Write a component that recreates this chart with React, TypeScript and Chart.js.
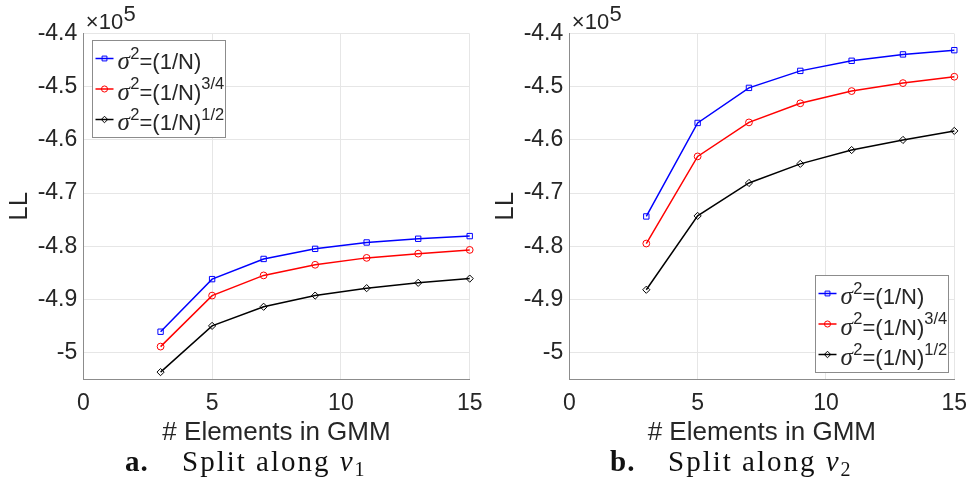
import React, { useEffect, useRef } from 'react';
import { Chart, registerables } from 'chart.js';

Chart.register(...registerables);

// ---------- data ----------
const elements = [3, 5, 7, 9, 11, 13, 15];
const xTicks = [0, 5, 10, 15];
const yTicks = [-5, -4.9, -4.8, -4.7, -4.6, -4.5, -4.4];
const yMin = -5.05;
const yMax = -4.4;
const xMin = 0;
const xMax = 15;

const seriesLabels = ['σ2=(1/N)', 'σ2=(1/N)3/4', 'σ2=(1/N)1/2'];
const legendExponents = ['', '3/4', '1/2'];
const seriesColors = ['#0000ff', '#ff0000', '#000000'];
const seriesMarkers = ['rect', 'circle', 'rectRot'];
const markerRadii = [3.8, 3.4, 3.6];

// LL values (x 10^5), split along nu_1
const nu1Inv = [-4.961, -4.862, -4.824, -4.805, -4.793, -4.786, -4.781];
const nu1Inv34 = [-4.989, -4.893, -4.855, -4.835, -4.822, -4.814, -4.807];
const nu1Inv12 = [-5.037, -4.95, -4.914, -4.893, -4.879, -4.869, -4.861];

// LL values (x 10^5), split along nu_2
const nu2Inv = [-4.744, -4.568, -4.502, -4.47, -4.451, -4.439, -4.431];
const nu2Inv34 = [-4.795, -4.631, -4.567, -4.531, -4.508, -4.493, -4.481];
const nu2Inv12 = [-4.882, -4.743, -4.681, -4.645, -4.619, -4.6, -4.583];

const xTitle = '# Elements in GMM';
const yTitle = 'LL';
const exponentBase = '×10';
const exponentPower = '5';

const SANS = '"Liberation Sans", Arial, Helvetica, sans-serif';
const SERIF = '"Liberation Serif", "Times New Roman", serif';
const TEXT = '#262626';
const AXIS = '#8c8c8c';
const GRID = '#e6e6e6';

function drawMarker(ctx: CanvasRenderingContext2D, style: string, x: number, y: number, r: number) {
  ctx.beginPath();
  if (style === 'rect') {
    const s = r * Math.SQRT1_2;
    ctx.rect(x - s, y - s, 2 * s, 2 * s);
  } else if (style === 'circle') {
    ctx.arc(x, y, r, 0, Math.PI * 2);
  } else {
    ctx.moveTo(x - r, y);
    ctx.lineTo(x, y - r);
    ctx.lineTo(x + r, y);
    ctx.lineTo(x, y + r);
    ctx.closePath();
  }
  ctx.stroke();
}

const legendPlugin = {
  id: 'matlabLegend',
  afterDraw(chart: any, _args: any, opts: any) {
    const { ctx, chartArea } = chart;
    const w = 133;
    const h = 97;
    let x0: number;
    let y0: number;
    if (opts.corner === 'nw') {
      x0 = chartArea.left + 8.7;
      y0 = chartArea.top + 6.3;
    } else {
      x0 = chartArea.right - 6 - w;
      y0 = chartArea.bottom - 7 - h;
    }
    x0 = Math.round(x0) + 0.5;
    y0 = Math.round(y0) + 0.5;
    ctx.save();
    ctx.fillStyle = '#ffffff';
    ctx.fillRect(x0, y0, w, h);
    ctx.strokeStyle = AXIS;
    ctx.lineWidth = 1;
    ctx.strokeRect(x0, y0, w, h);
    chart.data.datasets.forEach((ds: any, i: number) => {
      const cy = y0 + 18 + i * 30.5;
      ctx.strokeStyle = ds.borderColor;
      ctx.lineWidth = 1.5;
      ctx.beginPath();
      ctx.moveTo(x0 + 3, cy);
      ctx.lineTo(x0 + 21, cy);
      ctx.stroke();
      ctx.lineWidth = 1;
      drawMarker(ctx, seriesMarkers[i], x0 + 12, cy, markerRadii[i] * 0.9);
      const base = cy + 10.5;
      let tx = x0 + 25;
      ctx.fillStyle = TEXT;
      ctx.textBaseline = 'alphabetic';
      ctx.textAlign = 'left';
      ctx.font = `italic 25px ${SERIF}`;
      ctx.fillText('σ', tx, base);
      tx += ctx.measureText('σ').width + 0.5;
      ctx.font = `16.5px ${SANS}`;
      ctx.fillText('2', tx, base - 10.5);
      tx += ctx.measureText('2').width;
      ctx.font = `22px ${SANS}`;
      ctx.fillText('=(1/N)', tx, base);
      tx += ctx.measureText('=(1/N)').width;
      if (legendExponents[i]) {
        ctx.font = `16.5px ${SANS}`;
        ctx.fillText(legendExponents[i], tx, base - 10.5);
      }
    });
    ctx.restore();
  },
};

const exponentPlugin = {
  id: 'exponentLabel',
  afterDraw(chart: any) {
    const { ctx, chartArea } = chart;
    ctx.save();
    ctx.fillStyle = TEXT;
    ctx.textAlign = 'left';
    ctx.textBaseline = 'alphabetic';
    ctx.font = `22px ${SANS}`;
    const x = chartArea.left + 2.5;
    ctx.fillText(exponentBase, x, chartArea.top - 4.4);
    const w = ctx.measureText(exponentBase).width;
    ctx.fillText(exponentPower, x + w + 0.5, chartArea.top - 12.5);
    ctx.restore();
  },
};

function makeConfig(series: number[][], corner: 'nw' | 'se', rightPad: number): any {
  return {
    type: 'line',
    data: {
      datasets: series.map((vals, i) => ({
        label: seriesLabels[i],
        data: elements.map((x, j) => ({ x, y: vals[j] })),
        borderColor: seriesColors[i],
        backgroundColor: seriesColors[i],
        borderWidth: 1.5,
        pointStyle: seriesMarkers[i],
        pointRadius: markerRadii[i],
        pointBorderColor: seriesColors[i],
        pointBackgroundColor: 'rgba(0,0,0,0)',
        pointBorderWidth: 1,
        tension: 0,
        fill: false,
        clip: false,
      })),
    },
    options: {
      responsive: false,
      animation: false,
      events: [],
      layout: { padding: { top: 33.7, right: rightPad, left: 0, bottom: 0 } },
      plugins: {
        legend: { display: false },
        tooltip: { enabled: false },
        matlabLegend: { corner },
      },
      scales: {
        x: {
          type: 'linear',
          min: xMin,
          max: xMax,
          afterBuildTicks: (a: any) => {
            a.ticks = xTicks.map((v) => ({ value: v }));
          },
          afterFit: (a: any) => {
            a.height = 71;
            a.paddingLeft = 0;
            a.paddingRight = 0;
          },
          grid: { color: GRID, drawTicks: false, lineWidth: 1 },
          border: { display: true, color: AXIS, width: 1 },
          ticks: {
            font: { family: SANS, size: 23 },
            color: TEXT,
            padding: 11,
            maxRotation: 0,
            callback: (v: any) => String(v),
          },
          title: {
            display: true,
            text: xTitle,
            font: { family: SANS, size: 26 },
            color: TEXT,
            padding: { top: 0, bottom: 2 },
          },
        },
        y: {
          type: 'linear',
          min: yMin,
          max: yMax,
          afterBuildTicks: (a: any) => {
            a.ticks = yTicks.map((v) => ({ value: v }));
          },
          afterFit: (a: any) => {
            a.width = 83.3;
            a.paddingTop = 0;
            a.paddingBottom = 0;
          },
          grid: { color: GRID, drawTicks: false, lineWidth: 1 },
          border: { display: true, color: AXIS, width: 1 },
          ticks: {
            font: { family: SANS, size: 23 },
            color: TEXT,
            padding: 6,
            callback: (v: any) => String(Math.round(Number(v) * 10) / 10),
          },
          title: {
            display: true,
            text: yTitle,
            font: { family: SANS, size: 26 },
            color: TEXT,
            padding: { top: 4, bottom: 0 },
          },
        },
      },
    },
    plugins: [legendPlugin, exponentPlugin],
  };
}

function Panel({
  series,
  corner,
  left,
  rightPad,
}: {
  series: number[][];
  corner: 'nw' | 'se';
  left: number;
  rightPad: number;
}) {
  const ref = useRef<HTMLCanvasElement | null>(null);
  useEffect(() => {
    if (!ref.current) return;
    const chart = new Chart(ref.current, makeConfig(series, corner, rightPad));
    return () => chart.destroy();
  }, []);
  return (
    <canvas
      ref={ref}
      width={486}
      height={450}
      style={{ position: 'absolute', left, top: 0, width: 486, height: 450 }}
    />
  );
}

function Caption({ letter, sub, left, textLeft }: { letter: string; sub: string; left: number; textLeft: number }) {
  const common: React.CSSProperties = {
    position: 'absolute',
    top: 447,
    fontFamily: SERIF,
    fontSize: 29,
    lineHeight: '29px',
    color: '#111',
    whiteSpace: 'nowrap',
  };
  return (
    <>
      <div style={{ ...common, left, fontWeight: 'bold', letterSpacing: 1 }}>{letter}</div>
      <div style={{ ...common, left: textLeft, letterSpacing: 2 }}>
        Split along <i>ν</i>
        <span style={{ fontSize: 20, position: 'relative', top: 5, letterSpacing: 0 }}>{sub}</span>
      </div>
    </>
  );
}

export default function App() {
  return (
    <div
      style={{
        position: 'absolute',
        left: 0,
        top: 0,
        width: 972,
        height: 491,
        background: '#ffffff',
        overflow: 'hidden',
      }}
    >
      <Panel series={[nu1Inv, nu1Inv34, nu1Inv12]} corner="nw" left={0} rightPad={16.3} />
      <Panel series={[nu2Inv, nu2Inv34, nu2Inv12]} corner="se" left={486} rightPad={17.7} />
      <Caption letter="a." sub="1" left={125} textLeft={182} />
      <Caption letter="b." sub="2" left={610} textLeft={668} />
    </div>
  );
}
